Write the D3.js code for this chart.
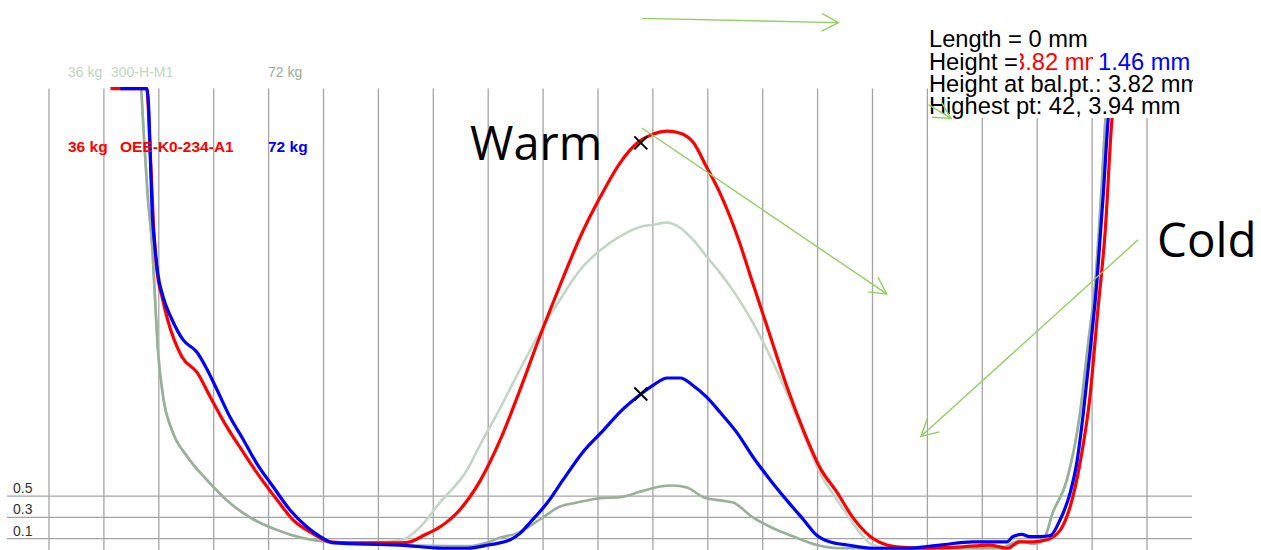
<!DOCTYPE html>
<html><head><meta charset="utf-8">
<script src="https://cdn.jsdelivr.net/npm/d3@7"></script>
<style>body{margin:0;background:#fff}svg{display:block}</style>
</head><body><svg id="c" width="1261" height="550"></svg>
<script>
// ---------- data ----------
const gridX = d3.range(0, 101, 5);          // vertical grid positions
const gridY = [0.1, 0.3, 0.5];              // horizontal grid values (mm)
const yTickLabels = ["0.1", "0.3", "0.5"];

// 36 kg 300-H-M1 (pale)
const pale36 = [[8.4,4.33],[8.7,3.78],[9.0,3.31],[9.4,2.84],[9.65,2.37],[9.9,1.90],[10.4,1.43],[11.2,1.12],[12.6,0.87],[14.4,0.65],[16.2,0.46],[18.3,0.30],[20.8,0.18],[22.9,0.11],[25.3,0.07],[27.4,0.06],[30.5,0.07],[32.2,0.09],[33.8,0.21],[35.6,0.44],[38.1,0.75],[39.25,0.98],[41.1,1.33],[42.9,1.69],[45.0,2.09],[46.5,2.34],[48.4,2.63],[50.2,2.81],[52.0,2.94],[53.8,3.03],[55.0,3.05],[56.3,3.07],[57.5,3.02],[58.65,2.91],[59.9,2.75],[61.1,2.60],[62.7,2.37],[64.1,2.13],[65.7,1.81],[67.2,1.47],[68.7,1.09],[70.2,0.72],[71.8,0.46],[73.0,0.28],[73.9,0.15],[75.05,0.04],[76.6,0.01],[86.6,0.01],[88.4,0.08],[89.6,0.05],[90.7,0.12],[91.4,0.34],[92.7,0.65],[93.9,1.28],[94.6,1.90],[95.3,2.53],[95.9,3.47],[96.2,4.03],[96.4,4.33]];
// 72 kg 300-H-M1 (grey-green)
const grey72 = [[8.4,4.33],[8.7,3.78],[9.0,3.31],[9.4,2.84],[9.65,2.37],[9.9,1.90],[10.4,1.43],[11.2,1.12],[12.6,0.87],[14.4,0.65],[16.2,0.46],[18.3,0.30],[20.8,0.18],[22.9,0.11],[25.3,0.07],[28.5,0.05],[32.0,0.04],[38.3,0.03],[39.8,0.06],[41.1,0.11],[42.6,0.15],[44.7,0.28],[46.5,0.40],[48.1,0.44],[50.2,0.48],[52.0,0.49],[53.8,0.54],[55.65,0.59],[56.8,0.60],[58.1,0.58],[59.6,0.49],[61.1,0.46],[62.3,0.44],[64.1,0.30],[65.9,0.20],[67.8,0.12],[69.95,0.04],[72.0,0.01],[86.6,0.01],[88.4,0.08],[89.6,0.05],[90.7,0.12],[91.4,0.34],[92.7,0.65],[93.9,1.28],[94.6,1.90],[95.3,2.53],[95.9,3.47],[96.2,4.03],[96.4,4.33]];
// 36 kg OEE-K0-234-A1 (red)
const red36 = [[5.6,4.33],[8.9,4.33],[9.2,3.78],[9.5,3.09],[9.8,2.65],[10.3,2.37],[10.8,2.16],[12.1,1.81],[13.5,1.66],[14.7,1.43],[16.2,1.15],[17.7,0.91],[19.2,0.68],[20.8,0.46],[22.2,0.28],[24.0,0.15],[25.6,0.07],[27.4,0.06],[32.0,0.06],[32.9,0.07],[34.1,0.13],[35.6,0.21],[37.4,0.37],[39.3,0.65],[41.1,1.03],[42.9,1.50],[44.7,2.00],[46.5,2.47],[48.4,2.94],[50.2,3.31],[52.0,3.63],[53.6,3.82],[55.0,3.90],[56.3,3.93],[57.5,3.91],[58.7,3.82],[59.9,3.59],[61.1,3.35],[62.7,2.94],[64.1,2.50],[65.7,2.00],[67.2,1.53],[68.7,1.12],[70.2,0.77],[71.8,0.53],[73.2,0.30],[74.8,0.12],[76.3,0.04],[77.5,0.02],[79.6,0.01],[82.7,0.02],[85.7,0.04],[87.3,0.01],[88.4,0.07],[89.6,0.07],[90.9,0.09],[92.1,0.18],[93.0,0.40],[93.9,0.81],[94.8,1.43],[95.5,2.22],[96.2,3.00],[96.8,4.03],[97.1,4.33]];
// 72 kg OEE-K0-234-A1 (blue)
const blue72 = [[6.5,4.33],[8.9,4.33],[9.1,4.10],[9.2,3.78],[9.4,3.16],[9.65,2.84],[9.9,2.60],[10.4,2.37],[11.2,2.16],[12.2,1.97],[13.5,1.85],[14.4,1.69],[15.3,1.50],[16.5,1.24],[17.7,1.03],[18.9,0.81],[20.4,0.59],[21.95,0.37],[23.5,0.21],[24.7,0.12],[25.9,0.06],[32.0,0.04],[35.9,0.01],[38.1,0.01],[40.0,0.04],[42.0,0.09],[42.9,0.15],[43.8,0.25],[45.4,0.44],[46.8,0.65],[48.6,0.91],[50.5,1.12],[52.0,1.29],[53.8,1.45],[55.0,1.54],[56.3,1.61],[57.5,1.61],[58.65,1.54],[59.9,1.43],[61.1,1.29],[62.7,1.09],[64.1,0.87],[65.7,0.65],[67.2,0.46],[68.7,0.28],[69.95,0.13],[71.1,0.07],[72.7,0.04],[75.05,0.01],[78.1,0.01],[81.15,0.04],[84.15,0.07],[87.25,0.07],[87.8,0.12],[88.6,0.14],[89.3,0.12],[90.3,0.12],[91.2,0.13],[92.1,0.28],[93.0,0.53],[93.6,0.81],[94.2,1.28],[94.8,1.85],[95.45,2.53],[96.0,3.31],[96.45,4.03],[96.7,4.33]];

const seriesColors = ["#c2d6c5", "#98b098", "#ff0000", "#0000ff"];
const legendTop = ["36 kg", "300-H-M1", "72 kg"];
const legendBottom = ["36 kg", "OEE-K0-234-A1", "72 kg"];
const markers = [[53.9, 3.82], [53.9, 1.46]];   // balance-point markers
const infoLines = ["Length = 0 mm", "Height =", "Height at bal.pt.: 3.82 mm", "Highest pt: 42, 3.94 mm"];
const heightRed = "3.82 mm", heightBlue = "1.46 mm";
const notes = ["Warm", "Cold"];
// arrows [x1,y1,x2,y2] in data units
const arrows = [[54.0,4.99,71.9,4.95],[54.0,3.96,76.3,2.40],[99.2,2.91,79.4,1.06],[80.1,4.18,82.15,4.05]];

// ---------- drawing ----------
const svg = d3.select("#c");
svg.append("rect").attr("width",1261).attr("height",550).attr("fill","#fff");
const x = d3.scaleLinear().domain([0,100]).range([49,1147]);
const y = d3.scaleLinear().domain([0,5]).range([549.3, 549.3-5*106.4]);

const grid = svg.append("g").attr("stroke","#a4a4a4").attr("stroke-width",1.3);
grid.selectAll("line.v").data(gridX).join("line").attr("class","v")
  .attr("x1",d=>x(d)).attr("x2",d=>x(d)).attr("y1",y(4.33)).attr("y2",550);
grid.selectAll("line.h").data(gridY).join("line").attr("class","h")
  .attr("x1",7).attr("x2",1192).attr("y1",d=>y(d)).attr("y2",d=>y(d));
svg.append("g").selectAll("text").data(gridY).join("text")
  .attr("x",13).attr("y",d=>y(d)-3).text((d,i)=>yTickLabels[i])
  .attr("font-family","Liberation Sans, Arial, sans-serif").attr("font-size",14).attr("fill","#333");

const line = d3.line().x(d=>x(d[0])).y(d=>y(d[1])).curve(d3.curveMonotoneX);
[pale36, grey72, red36, blue72].forEach((s,i)=>{
  svg.append("path").datum(s).attr("d",line).attr("fill","none")
    .attr("stroke",seriesColors[i]).attr("stroke-width", i<2 ? 2.6 : 3.2)
    .attr("stroke-linejoin","round");
});

// legend labels
const lf = "Liberation Sans, Arial, sans-serif";
const lt = svg.append("g").attr("font-family",lf).attr("font-size",14);
lt.append("text").attr("x",68).attr("y",77).attr("fill","#c2d4c4").text(legendTop[0]);
lt.append("text").attr("x",111).attr("y",77).attr("fill","#c2d4c4").text(legendTop[1]);
lt.append("text").attr("x",268).attr("y",77).attr("fill","#9aae9a").text(legendTop[2]);
const lb = svg.append("g").attr("font-family",lf).attr("font-size",15.5).attr("font-weight","bold");
lb.append("text").attr("x",68).attr("y",152).attr("fill","#ff0000").text(legendBottom[0]);
lb.append("text").attr("x",120).attr("y",152).attr("fill","#ff0000").text(legendBottom[1]);
lb.append("text").attr("x",268).attr("y",152).attr("fill","#0000ff").text(legendBottom[2]);

// markers
svg.append("g").selectAll("path").data(markers).join("path")
  .attr("d",d=>{const cx=x(d[0]), cy=y(d[1]), r=6.5; return `M${cx-r},${cy-r}L${cx+r},${cy+r}M${cx-r},${cy+r}L${cx+r},${cy-r}`;})
  .attr("stroke","#000").attr("stroke-width",2).attr("fill","none");

// info box
svg.append("defs").append("clipPath").attr("id","boxclip").append("rect")
  .attr("x",928).attr("y",20).attr("width",265).attr("height",100);
const box = svg.append("g").attr("clip-path","url(#boxclip)")
  .attr("font-family",lf).attr("font-size",23.7);
box.append("rect").attr("x",928).attr("y",26).attr("width",265).attr("height",92).attr("fill","#fff");
const base = [47,70,92,114];
box.append("text").attr("x",1012).attr("y",base[1]).attr("fill","#ff0000").text(heightRed);
box.append("rect").attr("x",928).attr("y",50).attr("width",92).attr("height",22).attr("fill","#fff");
box.append("rect").attr("x",1093).attr("y",50).attr("width",100).attr("height",22).attr("fill","#fff");
box.append("text").attr("x",1098).attr("y",base[1]).attr("fill","#0000ff").text(heightBlue);
infoLines.forEach((t,i)=>box.append("text").attr("x",929).attr("y",base[i]).attr("fill","#000").text(t));

// notes
const nf = "Open Sans, Noto Sans, sans-serif";
svg.append("text").attr("x",470).attr("y",160).attr("font-family",nf).attr("font-size",47).attr("fill","#000").text(notes[0]);
svg.append("text").attr("x",1157).attr("y",257).attr("font-family",nf).attr("font-size",47.5).attr("fill","#000").text(notes[1]);

// arrows
const ag = svg.append("g").attr("stroke","#92cf62").attr("stroke-width",1.4).attr("fill","none");
arrows.forEach(a=>{
  const x1=x(a[0]), y1=y(a[1]), x2=x(a[2]), y2=y(a[3]);
  const ang=Math.atan2(y2-y1,x2-x1), L=19, sp=28*Math.PI/180;
  ag.append("line").attr("x1",x1).attr("y1",y1).attr("x2",x2).attr("y2",y2);
  ag.append("path").attr("d",`M${x2-L*Math.cos(ang-sp)},${y2-L*Math.sin(ang-sp)}L${x2},${y2}L${x2-L*Math.cos(ang+sp)},${y2-L*Math.sin(ang+sp)}`);
});
</script></body></html>
